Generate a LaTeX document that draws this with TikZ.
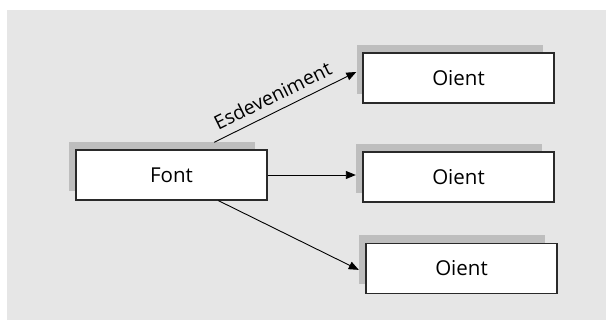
\documentclass[tikz,border=0pt]{standalone}
\usepackage{fontspec}
\setmainfont{Open Sans}
\usetikzlibrary{arrows.meta,calc}
\definecolor{bggrey}{HTML}{E6E6E6}
\definecolor{shadowgrey}{HTML}{BEBEBE}
\definecolor{edgegrey}{HTML}{2A2A2A}
\tikzset{
  labelfont/.style={font=\fontsize{19.5}{22}\selectfont},
  box/.style={draw=edgegrey, line width=1.3pt, fill=white, minimum width=191pt,
    minimum height=50pt, inner sep=0pt, font=\fontsize{20.5}{24}\selectfont},
  shadowbox/.style={fill=shadowgrey, minimum width=186pt, minimum height=49pt, inner sep=0pt},
  arr/.style={line width=0.9pt, -{Triangle[length=10pt,width=8pt]}},
}
\begin{document}
\begin{tikzpicture}[x=1pt,y=-1pt]
  \useasboundingbox (0,0) rectangle (606,320);
  \fill[bggrey] (7,10) rectangle (606,320);

  % drop shadows behind the boxes
  \node[shadowbox] (fs) at (162,167) {};
  \node[shadowbox] (s1) at (449.5,69.5) {};
  \node[shadowbox] (s2) at (449,168.5) {};
  \node[shadowbox] (s3) at (452,259.5) {};

  % boxes
  \node[box] (f)  at (171.5,175) {Font};
  \node[box] (o1) at (458.5,78)  {Oient};
  \node[box] (o2) at (458.5,177) {Oient};
  \node[box] (o3) at (461.5,268.5) {Oient};

  % connectors
  \draw[arr] ($(fs.north west)!0.78!(fs.north east)$) --
    node[sloped, above=8pt, pos=0.46, inner sep=0pt, labelfont] {Esdeveniment}
    ($(s1.north west)!0.55!(s1.south west)$);
  \draw[arr] (f.east) -- (f.east -| s2.west);
  \draw[arr] ($(f.south west)!0.744!(f.south east)$) --
    ($(s3.north west)!0.71!(s3.south west)$);
\end{tikzpicture}
\end{document}
